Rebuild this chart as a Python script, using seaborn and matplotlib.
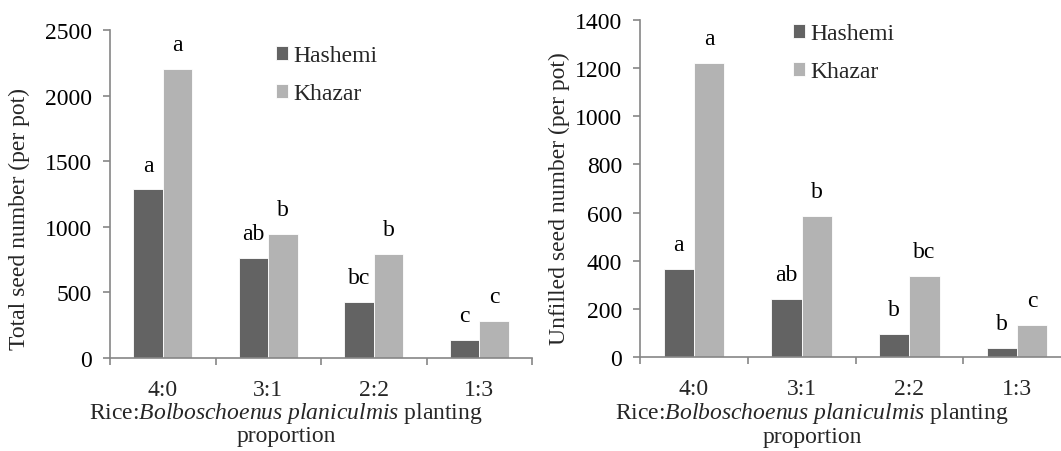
import matplotlib
matplotlib.use("Agg")
import matplotlib.pyplot as plt
from matplotlib.ticker import FixedLocator, NullFormatter
import seaborn as sns
import pandas as pd

# ---- data ----
proportions = ["4:0", "3:1", "2:2", "1:3"]
varieties = ["Hashemi", "Khazar"]
total_hashemi = [1285, 762, 427, 135]
total_khazar = [2205, 945, 793, 282]
total_letters_hashemi = ["a", "ab", "bc", "c"]
total_letters_khazar = ["a", "b", "b", "c"]
unfilled_hashemi = [365, 243, 96, 36]
unfilled_khazar = [1221, 586, 337, 132]
unfilled_letters_hashemi = ["a", "ab", "b", "b"]
unfilled_letters_khazar = ["a", "b", "bc", "c"]

sns.set_theme(style="white")
plt.rcParams["font.family"] = ["Liberation Serif", "DejaVu Serif"]
plt.rcParams["mathtext.fontset"] = "custom"
plt.rcParams["mathtext.rm"] = "Liberation Serif"
plt.rcParams["mathtext.it"] = "Liberation Serif:italic"

DARK = "#636363"
LIGHT = "#b3b3b3"
AXC = "#868686"
TICK_FS = 17
LAB_FS = 17
LEG_FS = 17
ANN_FS = 17

fig = plt.figure(figsize=(10.61, 4.52), dpi=100)
W, H = 1061, 452
ax1 = fig.add_axes([110 / W, 1 - 359 / H, (532 - 110) / W, (359 - 31) / H])
ax2 = fig.add_axes([640 / W, 1 - 358 / H, (1071 - 640) / W, (358 - 21) / H])


def make_panel(ax, hv, kv, hl, kl, ymax, ystep, ylabel, xlab_x, ylab_xy, leg_anchor):
    df = pd.DataFrame({
        "prop": proportions * 2,
        "variety": [varieties[0]] * 4 + [varieties[1]] * 4,
        "value": hv + kv,
    })
    sns.barplot(data=df, x="prop", y="value", hue="variety", order=proportions,
                hue_order=varieties, palette=[DARK, LIGHT], width=0.56,
                saturation=1, edgecolor="white", linewidth=0.6, ax=ax,
                errorbar=None)
    for cont, labs in zip(ax.containers, [hl, kl]):
        ax.bar_label(cont, labels=labs, padding=10, fontsize=ANN_FS, color="black")
    ax.set_xlim(-0.5, 3.5)
    ax.set_ylim(0, ymax)
    ax.set_yticks(list(range(0, ymax + 1, ystep)))
    ax.tick_params(axis="y", labelsize=TICK_FS, length=5, width=1.2, color=AXC,
                   pad=8, left=True, labelcolor="black")
    ax.xaxis.set_minor_locator(FixedLocator([-0.5, 0.5, 1.5, 2.5, 3.5]))
    ax.xaxis.set_minor_formatter(NullFormatter())
    ax.tick_params(axis="x", which="major", length=0, labelsize=TICK_FS, pad=15)
    ax.tick_params(axis="x", which="minor", length=5, width=1.2, color=AXC,
                   bottom=True, direction="out")
    for s in ["top", "right"]:
        ax.spines[s].set_visible(False)
    for s in ["left", "bottom"]:
        ax.spines[s].set_color(AXC)
        ax.spines[s].set_linewidth(1.2)
    ax.set_ylabel(ylabel, fontsize=LAB_FS)
    ax.yaxis.set_label_coords(*ylab_xy)
    ax.set_xlabel("Rice:$\\it{Bolboschoenus\\ planiculmis}$ planting\nproportion",
                  fontsize=LAB_FS, linespacing=1.05)
    ax.xaxis.set_label_coords(xlab_x, -0.127)
    ax.xaxis.label.set_verticalalignment("top")
    ax.legend(loc="upper left", bbox_to_anchor=leg_anchor, frameon=False,
              fontsize=LEG_FS, handlelength=0.5, handleheight=0.5,
              handletextpad=0.25, labelspacing=0.72, borderaxespad=0,
              borderpad=0)
    return ax


make_panel(ax1, total_hashemi, total_khazar, total_letters_hashemi,
           total_letters_khazar, 2500, 500, "Total seed number (per pot)",
           0.417, (-0.19, 0.427), (0.393, 0.953))
make_panel(ax2, unfilled_hashemi, unfilled_khazar, unfilled_letters_hashemi,
           unfilled_letters_khazar, 1400, 200, "Unfilled seed number (per pot)",
           0.399, (-0.162, 0.473), (0.355, 0.99))

fig.savefig("out.png", dpi=100)
